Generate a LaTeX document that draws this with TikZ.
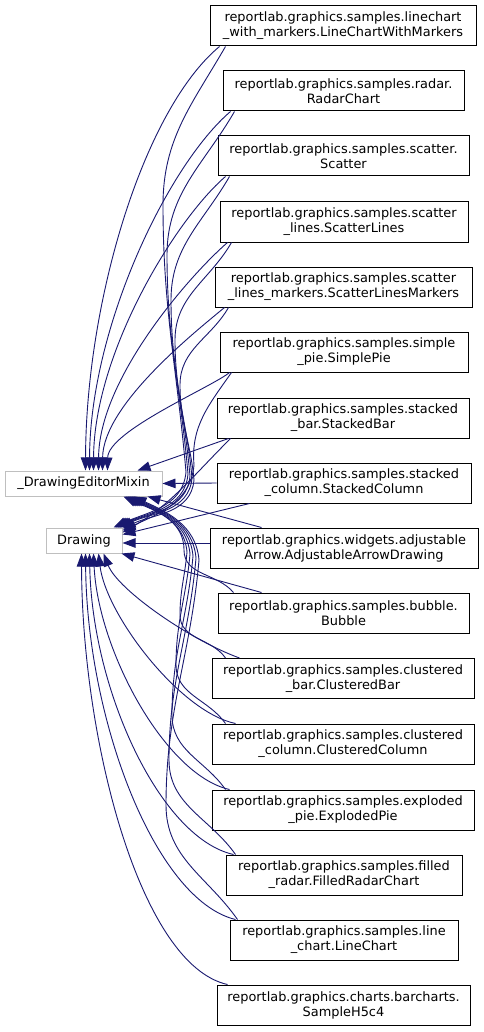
\documentclass[tikz,border=0pt]{standalone}
\usepackage{fontspec}
\setmainfont{DejaVu Sans}
\usetikzlibrary{arrows.meta,calc}
\definecolor{edgec}{RGB}{25,25,112}
\definecolor{gborder}{RGB}{191,191,191}
\newcommand\nodefont{\fontsize{12.9}{15}\selectfont}
\begin{document}
\begin{tikzpicture}[x=1pt,y=-1pt,
  cls/.style={draw=black, line width=1pt, fill=white, minimum height=40pt, inner sep=0pt, align=center, font=\nodefont},
  base/.style={draw=gborder, line width=1pt, fill=white, minimum height=25pt, inner sep=0pt, font=\nodefont},
  inh/.style={draw=edgec, line width=0.9pt, -{Triangle[length=13pt,width=9.5pt]}}]
\useasboundingbox (0,0) rectangle (483,1032);
\fill[white] (0,0) rectangle (483,1032);

\node[base, minimum width=157pt] (mixin) at (83.5,483.5) {\_DrawingEditorMixin};
\node[base, minimum width=76pt] (drawing) at (84,540.5) {Drawing};

\node[cls, minimum width=266pt] (c1) at (343,26) {reportlab.graphics.samples.linechart\\\_with\_markers.LineChartWithMarkers};
\node[cls, minimum width=241pt] (c2) at (343.5,91) {reportlab.graphics.samples.radar.\\RadarChart};
\node[cls, minimum width=251pt] (c3) at (343.5,156) {reportlab.graphics.samples.scatter.\\Scatter};
\node[cls, minimum width=248pt] (c4) at (344,222) {reportlab.graphics.samples.scatter\\\_lines.ScatterLines};
\node[cls, minimum width=257pt] (c5) at (343.5,287) {reportlab.graphics.samples.scatter\\\_lines\_markers.ScatterLinesMarkers};
\node[cls, minimum width=248pt] (c6) at (344,352) {reportlab.graphics.samples.simple\\\_pie.SimplePie};
\node[cls, minimum width=252pt] (c7) at (343,418) {reportlab.graphics.samples.stacked\\\_bar.StackedBar};
\node[cls, minimum width=254pt] (c8) at (344,483) {reportlab.graphics.samples.stacked\\\_column.StackedColumn};
\node[cls, minimum width=268pt] (c9) at (344,548) {reportlab.graphics.widgets.adjustable\\Arrow.AdjustableArrowDrawing};
\node[cls, minimum width=251pt] (c10) at (343.5,613) {reportlab.graphics.samples.bubble.\\Bubble};
\node[cls, minimum width=262pt] (c11) at (343,678.5) {reportlab.graphics.samples.clustered\\\_bar.ClusteredBar};
\node[cls, minimum width=262pt] (c12) at (343,744) {reportlab.graphics.samples.clustered\\\_column.ClusteredColumn};
\node[cls, minimum width=262pt] (c13) at (343,810) {reportlab.graphics.samples.exploded\\\_pie.ExplodedPie};
\node[cls, minimum width=236pt] (c14) at (344,875) {reportlab.graphics.samples.filled\\\_radar.FilledRadarChart};
\node[cls, minimum width=228pt] (c15) at (344,940) {reportlab.graphics.samples.line\\\_chart.LineChart};
\node[cls, minimum width=253pt] (c16) at (343.5,1005) {reportlab.graphics.charts.barcharts.\\SampleH5c4};

% upper classes -> _DrawingEditorMixin
\draw[inh] ($(c1.south west)+(10,0)$) .. controls (143.5,109.75) and (86,301) .. ($(mixin.north west)+(81,0)$);
\draw[inh] ($(c2.south west)+(8,0)$) .. controls (168,165) and (90,327) .. ($(mixin.north west)+(85,0)$);
\draw[inh] ($(c3.south west)+(8,0)$) .. controls (175,220) and (94,353) .. ($(mixin.north west)+(89,0)$);
\draw[inh] ($(c4.south west)+(8,0)$) .. controls (189,276) and (99,379) .. ($(mixin.north west)+(94,0)$);
\draw[inh] ($(c5.south west)+(10,0)$) .. controls (195,332) and (103,405) .. ($(mixin.north west)+(98,0)$);
\draw[inh] ($(c6.south west)+(10,0)$) .. controls (212,387) and (108,431) .. ($(mixin.north west)+(103,0)$);
\draw[inh] ($(c7.south west)+(12,0)$) -- ($(mixin.north west)+(133,0)$);
\draw[inh] (c8.west) -- (mixin.east);
\draw[inh] ($(c9.north west)+(52,0)$) -- ($(mixin.south east)+(-15,0)$);

% upper classes -> Drawing
\draw[inh] ($(c1.south west)+(16,0)$) to[out=240,in=90] (163,205) to[out=-90,in=95] (186,472) to[out=-95,in=25] ($(drawing.north west)+(68,0)$);
\draw[inh] ($(c2.south west)+(12,0)$) to[out=240,in=90] (167,255) to[out=-90,in=95] (188,474) to[out=-95,in=25] ($(drawing.north west)+(70,0)$);
\draw[inh] ($(c3.south west)+(12,0)$) to[out=240,in=90] (171,300) to[out=-90,in=95] (190,476) to[out=-95,in=25] ($(drawing.north west)+(72,0)$);
\draw[inh] ($(c4.south west)+(12,0)$) to[out=240,in=90] (175,340) to[out=-90,in=95] (192,478) to[out=-95,in=25] ($(drawing.north west)+(74,0)$);
\draw[inh] ($(c5.south west)+(14,0)$) to[out=240,in=90] (180,385) to[out=-90,in=95] (194,480) to[out=-95,in=25] ($(drawing.north east)+(0,1)$);
\draw[inh] ($(c6.south west)+(12,0)$) to[out=235,in=95] (194,465) to[out=-95,in=25] ($(drawing.north east)+(0,3)$);
\draw[inh] ($(c7.south west)+(14,0)$) to[out=225,in=30] ($(drawing.north east)+(0,5)$);
\draw[inh] ($(c8.south west)+(33,0)$) -- ($(drawing.east)+(0,-6)$);
\draw[inh] ($(c9.west)+(0,-5)$) -- ($(drawing.east)+(0,2.5)$);

% lower classes -> _DrawingEditorMixin
\draw[inh] ($(c10.north west)+(16,0)$) to[out=130,in=-90] (184,550) to[out=90,in=-25] ($(mixin.south west)+(119,0)$);
\draw[inh] ($(c11.north west)+(14,0)$) to[out=125,in=-90] (180,615) to[out=90,in=-95] (187,552) to[out=95,in=-25] ($(mixin.south west)+(121,0)$);
\draw[inh] ($(c12.north west)+(14,0)$) to[out=125,in=-90] (176,665) to[out=90,in=-95] (190,554) to[out=95,in=-25] ($(mixin.south west)+(123,0)$);
\draw[inh] ($(c13.north west)+(14,0)$) to[out=125,in=-90] (172,715) to[out=90,in=-95] (193,556) to[out=95,in=-25] ($(mixin.south west)+(125,0)$);
\draw[inh] ($(c14.north west)+(10,0)$) to[out=125,in=-90] (169,760) to[out=90,in=-95] (196,558) to[out=95,in=-25] ($(mixin.south west)+(127,0)$);
\draw[inh] ($(c15.north west)+(8,0)$) to[out=125,in=-90] (166,805) to[out=90,in=-95] (199,560) to[out=95,in=-25] ($(mixin.south west)+(129,0)$);

% lower classes -> Drawing
\draw[inh] ($(c10.north west)+(44,0)$) -- ($(drawing.south east)+(-1,0)$);
\draw[inh] ($(c11.north west)+(28,0)$) .. controls (190,640) and (118,590) .. ($(drawing.south west)+(58,0)$);
\draw[inh] ($(c12.north west)+(24,0)$) .. controls (180,712) and (106,615) .. ($(drawing.south west)+(53,0)$);
\draw[inh] ($(c13.north west)+(18,0)$) .. controls (165,775) and (98,650) .. ($(drawing.south west)+(48,0)$);
\draw[inh] ($(c14.north west)+(8,0)$) .. controls (160,838) and (92,690) .. ($(drawing.south west)+(44,0)$);
\draw[inh] ($(c15.north west)+(6,0)$) .. controls (155,900) and (87,720) .. ($(drawing.south west)+(40,0)$);
\draw[inh] ($(c16.north west)+(11,0)$) .. controls (140,965) and (82,740) .. ($(drawing.south west)+(36,0)$);
\end{tikzpicture}
\end{document}
